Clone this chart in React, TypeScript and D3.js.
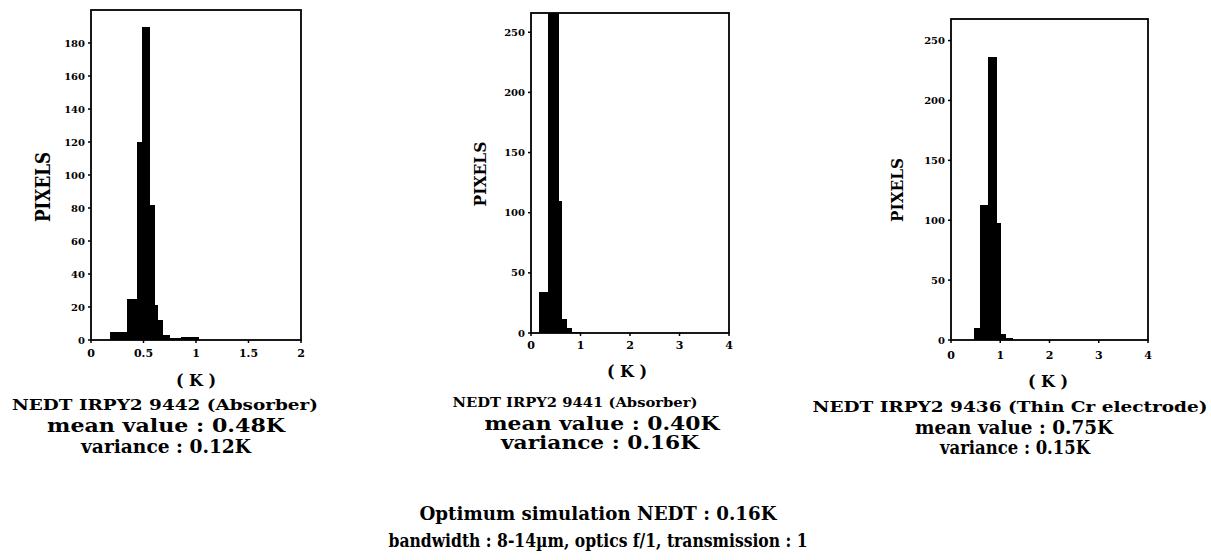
import * as d3 from 'd3'

// pixel-count histograms, bins run from edges[i] to edges[i + 1] (K)
const absorber9442Edges = [0.18, 0.34, 0.44, 0.49, 0.56, 0.6, 0.63, 0.68, 0.75, 0.86, 1.02]
const absorber9442Counts = [5, 25, 120, 190, 82, 21, 12, 3, 1, 2]

const absorber9441Edges = [0.16, 0.34, 0.55, 0.61, 0.71, 0.82, 1.0]
const absorber9441Counts = [34, 266, 110, 12, 4, 1]

const thinCr9436Edges = [0.46, 0.59, 0.75, 0.92, 1.0, 1.1, 1.25]
const thinCr9436Counts = [10, 113, 236, 98, 5, 2]

const xTicksHalfK = [0, 0.5, 1, 1.5, 2]
const xTicksWholeK = [0, 1, 2, 3, 4]
const yTicksBy20 = [0, 20, 40, 60, 80, 100, 120, 140, 160, 180]
const yTicksBy50 = [0, 50, 100, 150, 200, 250]

const captions = [
  'NEDT IRPY2 9442 (Absorber)',
  'NEDT IRPY2 9441 (Absorber)',
  'NEDT IRPY2 9436 (Thin Cr electrode)',
]
const meanLabels = ['mean value : 0.48K', 'mean value : 0.40K', 'mean value : 0.75K']
const varianceLabels = ['variance : 0.12K', 'variance : 0.16K', 'variance : 0.15K']
const footerLines = [
  'Optimum simulation NEDT : 0.16K',
  'bandwidth : 8-14\u00b5m, optics f/1, transmission : 1',
]

const FONT = '"DejaVu Serif", "Liberation Serif", serif'

type Txt = { text: string; x: number; y: number; len: number; size: number }

interface PanelProps {
  edges: number[]
  counts: number[]
  xTicks: number[]
  yTicks: number[]
  xMax: number
  yMax: number
  frame: { left: number; right: number; top: number; bottom: number }
  pixels: { x: number; y: number; len: number; size: number }
  kLabel: { x: number; y: number }
  xTickY: number
  caption: Txt
  mean: Txt
  variance: Txt
}

function HistPanel(p: PanelProps) {
  const { frame } = p
  const x = d3.scaleLinear().domain([0, p.xMax]).range([frame.left, frame.right])
  const y = d3.scaleLinear().domain([0, p.yMax]).range([frame.bottom, frame.top])
  const bins = p.counts.map((c, i) => ({ x0: p.edges[i], x1: p.edges[i + 1], c }))

  return (
    <g>
      <g shapeRendering="crispEdges">
        {bins.map((b, i) => (
          <rect
            key={i}
            x={x(b.x0)}
            y={y(b.c)}
            width={x(b.x1) - x(b.x0) + 0.5}
            height={y(0) - y(b.c)}
            fill="#000"
          />
        ))}
      </g>
      <rect
        x={frame.left}
        y={frame.top}
        width={frame.right - frame.left}
        height={frame.bottom - frame.top}
        fill="none"
        stroke="#000"
        strokeWidth={1.8}
      />
      {p.yTicks.map((t) => (
        <g key={t}>
          <line x1={frame.left - 3} x2={frame.left} y1={y(t)} y2={y(t)} stroke="#000" strokeWidth={1.5} />
          <text
            x={frame.left - 6}
            y={y(t)}
            textAnchor="end"
            dominantBaseline="central"
            fontFamily={FONT}
            fontWeight="bold"
            fontSize={10}
          >
            {t}
          </text>
        </g>
      ))}
      {p.xTicks.map((t) => (
        <g key={t}>
          <line x1={x(t)} x2={x(t)} y1={frame.bottom} y2={frame.bottom + 3} stroke="#000" strokeWidth={1.5} />
          <text
            x={x(t)}
            y={p.xTickY}
            textAnchor="middle"
            dominantBaseline="central"
            fontFamily={FONT}
            fontWeight="bold"
            fontSize={11}
          >
            {t}
          </text>
        </g>
      ))}
      <text
        transform={`translate(${p.pixels.x},${p.pixels.y}) rotate(-90)`}
        textAnchor="middle"
        dominantBaseline="central"
        fontFamily={FONT}
        fontWeight="bold"
        fontSize={p.pixels.size}
        textLength={p.pixels.len}
        lengthAdjust="spacingAndGlyphs"
      >
        PIXELS
      </text>
      <text
        x={p.kLabel.x}
        y={p.kLabel.y}
        textAnchor="middle"
        dominantBaseline="central"
        fontFamily={FONT}
        fontWeight="bold"
        fontSize={16}
      >
        ( K )
      </text>
      {[p.caption, p.mean, p.variance].map((t, i) => (
        <text
          key={i}
          x={t.x}
          y={t.y}
          textAnchor="middle"
          dominantBaseline="central"
          fontFamily={FONT}
          fontWeight="bold"
          fontSize={t.size}
          textLength={t.len}
          lengthAdjust="spacingAndGlyphs"
        >
          {t.text}
        </text>
      ))}
    </g>
  )
}

export default function App() {
  return (
    <svg
      width={1211}
      height={560}
      style={{ position: 'absolute', left: 0, top: 0, background: '#fff' }}
    >
      <HistPanel
        edges={absorber9442Edges}
        counts={absorber9442Counts}
        xTicks={xTicksHalfK}
        yTicks={yTicksBy20}
        xMax={2}
        yMax={200}
        frame={{ left: 91, right: 301, top: 10, bottom: 340 }}
        pixels={{ x: 42, y: 187, len: 70, size: 21 }}
        kLabel={{ x: 196, y: 380 }}
        xTickY={353}
        caption={{ text: captions[0], x: 165, y: 405, len: 306, size: 14 }}
        mean={{ text: meanLabels[0], x: 166, y: 425, len: 238, size: 19 }}
        variance={{ text: varianceLabels[0], x: 166, y: 446, len: 170, size: 19 }}
      />
      <HistPanel
        edges={absorber9441Edges}
        counts={absorber9441Counts}
        xTicks={xTicksWholeK}
        yTicks={yTicksBy50}
        xMax={4}
        yMax={266}
        frame={{ left: 531, right: 729, top: 13, bottom: 333 }}
        pixels={{ x: 480, y: 174, len: 65, size: 17 }}
        kLabel={{ x: 627, y: 371 }}
        xTickY={345}
        caption={{ text: captions[1], x: 575, y: 403, len: 245, size: 12 }}
        mean={{ text: meanLabels[1], x: 602, y: 423, len: 235, size: 18 }}
        variance={{ text: varianceLabels[1], x: 600, y: 442, len: 198, size: 18 }}
      />
      <HistPanel
        edges={thinCr9436Edges}
        counts={thinCr9436Counts}
        xTicks={xTicksWholeK}
        yTicks={yTicksBy50}
        xMax={4}
        yMax={268}
        frame={{ left: 951, right: 1148, top: 19, bottom: 340 }}
        pixels={{ x: 897, y: 190, len: 64, size: 17 }}
        kLabel={{ x: 1048, y: 381 }}
        xTickY={355}
        caption={{ text: captions[2], x: 1010, y: 407, len: 395, size: 14 }}
        mean={{ text: meanLabels[2], x: 1014, y: 427, len: 198, size: 18 }}
        variance={{ text: varianceLabels[2], x: 1015, y: 447, len: 150, size: 18 }}
      />
      {footerLines.map((line, i) => (
        <text
          key={i}
          x={598}
          y={513 + i * 27}
          textAnchor="middle"
          dominantBaseline="central"
          fontFamily={FONT}
          fontWeight="bold"
          fontSize={18}
          textLength={i === 0 ? 357 : 419}
          lengthAdjust="spacingAndGlyphs"
        >
          {line}
        </text>
      ))}
    </svg>
  )
}
